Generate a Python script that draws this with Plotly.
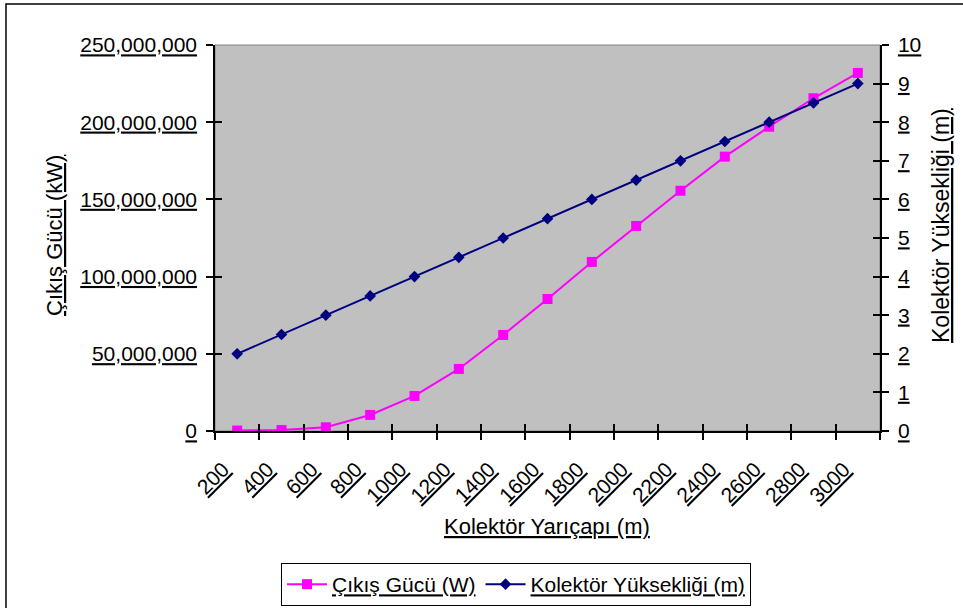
import plotly.graph_objects as go

# Collector radius categories (m)
radius = ["200", "400", "600", "800", "1000", "1200", "1400", "1600",
          "1800", "2000", "2200", "2400", "2600", "2800", "3000"]

# Output power (left axis)
power = [0.3e6, 0.6e6, 2.4e6, 10.4e6, 22.7e6, 40.2e6, 62.2e6, 85.5e6,
         109.5e6, 132.8e6, 155.6e6, 177.7e6, 197.1e6, 215.5e6, 231.9e6]

# Collector height (right axis, m)
height = [2.0, 2.5, 3.0, 3.5, 4.0, 4.5, 5.0, 5.5,
          6.0, 6.5, 7.0, 7.5, 8.0, 8.5, 9.0]

W, H = 963, 608
L, R, T, B = 215, 83, 45, 177
PW, PH = W - L - R, H - T - B


def px(x):
    return (x - L) / PW


def py(y):
    return (H - B - y) / PH


FONT = "Arial, 'Liberation Sans', sans-serif"
tick_font = dict(family=FONT, size=21, color="black", lineposition="under")
title_font = dict(family=FONT, size=22, color="black", lineposition="under")

fig = go.Figure()

fig.add_trace(go.Scatter(
    x=radius, y=power, name="Çıkış Gücü (W)", mode="lines+markers",
    line=dict(color="#FF00FF", width=2),
    marker=dict(symbol="square", size=10, color="#FF00FF"),
    xaxis="x", yaxis="y",
))
fig.add_trace(go.Scatter(
    x=radius, y=height, name="Kolektör Yüksekliği (m)", mode="lines+markers",
    line=dict(color="#000080", width=2),
    marker=dict(symbol="diamond", size=9, color="#000080"),
    xaxis="x", yaxis="y2",
))
# empty helpers so the inner-tick overlay axes get drawn
fig.add_trace(go.Scatter(x=[], y=[], xaxis="x2", yaxis="y3",
                         showlegend=False, hoverinfo="skip"))
fig.add_trace(go.Scatter(x=[], y=[], xaxis="x2", yaxis="y4",
                         showlegend=False, hoverinfo="skip"))

axis_common = dict(showgrid=False, zeroline=False, linecolor="black",
                   linewidth=1.5, tickcolor="black", ticklen=7, tickwidth=1.5)

fig.update_layout(
    width=W, height=H,
    margin=dict(l=L, r=R, t=T, b=B, autoexpand=False),
    paper_bgcolor="white",
    plot_bgcolor="#C0C0C0",
    font=dict(family=FONT, size=21, color="black"),
    showlegend=True,
    xaxis=dict(
        type="category", range=[-0.5, len(radius) - 0.5],
        tickson="boundaries", ticks="outside", showline=True,
        tickangle=-45, tickfont=tick_font, anchor="y",
        ticklabelstandoff=16, ticklabelshift=-14,
        **axis_common,
    ),
    xaxis2=dict(
        overlaying="x", anchor="y", range=[-0.5, len(radius) - 0.5],
        tickmode="linear", tick0=-0.5, dtick=1, ticks="inside",
        showticklabels=False, showline=False, showgrid=False,
        zeroline=False, tickcolor="black", ticklen=7, tickwidth=1.5,
    ),
    yaxis=dict(
        range=[0, 250e6], tickmode="linear", tick0=0, dtick=50e6,
        tickformat=",d", ticks="outside", showline=True,
        tickfont=tick_font, ticklabelstandoff=5, anchor="x",
        **axis_common,
    ),
    yaxis2=dict(
        overlaying="y", side="right", range=[0, 10], tickmode="linear",
        tick0=0, dtick=1, ticks="outside", showline=True,
        tickfont=tick_font, ticklabelstandoff=5, anchor="x",
        **axis_common,
    ),
    yaxis3=dict(
        overlaying="y", side="left", range=[0, 250e6], tickmode="linear",
        tick0=0, dtick=50e6, ticks="inside", showticklabels=False,
        showline=False, showgrid=False, zeroline=False,
        tickcolor="black", ticklen=7, tickwidth=1.5, anchor="x2",
    ),
    yaxis4=dict(
        overlaying="y", side="right", range=[0, 10], tickmode="linear",
        tick0=0, dtick=1, ticks="inside", showticklabels=False,
        showline=False, showgrid=False, zeroline=False,
        tickcolor="black", ticklen=7, tickwidth=1.5, anchor="x2",
    ),
    legend=dict(
        orientation="h", x=px(281), y=py(563), xanchor="left", yanchor="top",
        bgcolor="white", bordercolor="black", borderwidth=1,
        font=dict(family=FONT, size=21, color="black", lineposition="under"),
        itemwidth=40,
    ),
    annotations=[
        dict(text="Kolektör Yarıçapı (m)", xref="paper", yref="paper",
             x=px(547), y=py(526), xanchor="center", yanchor="middle",
             showarrow=False, font=title_font),
        dict(text="Çıkış Gücü (kW)", xref="paper", yref="paper",
             x=px(54), y=py(236), xanchor="center", yanchor="middle",
             textangle=-90, showarrow=False, font=title_font),
        dict(text="Kolektör Yüksekliği (m)", xref="paper", yref="paper",
             x=px(941), y=py(226), xanchor="center", yanchor="middle",
             textangle=-90, showarrow=False,
             font=dict(family=FONT, size=23, color="black",
                       lineposition="under")),
    ],
    shapes=[
        # plot-area frame
        dict(type="rect", xref="paper", yref="paper", x0=0, x1=1, y0=0, y1=1,
             line=dict(color="#808080", width=1), layer="below"),
        # outer chart border
        dict(type="rect", xref="paper", yref="paper",
             x0=px(6), x1=px(975), y0=py(620), y1=py(4),
             line=dict(color="black", width=1.5), layer="below"),
    ],
)

fig.write_html("out.html")
